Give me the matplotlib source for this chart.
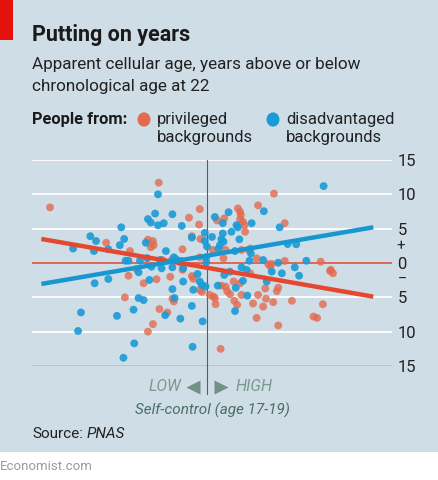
import numpy as np
import matplotlib.pyplot as plt
from matplotlib.patches import Rectangle, Circle

plt.rcParams['font.family'] = ['Roboto', 'DejaVu Sans']

# --- datos (autocontrol estandarizado, años de edad celular) ---
priv_x = [-2.18, -1.40, -1.07, -0.82, -0.67, -0.25, -0.10, -0.11, 0.14, 0.43,
          0.46, 0.47, 0.46, 0.50, 0.71, 0.24, 0.53, 0.52, -0.21, -0.09,
          -0.34, -0.75, -0.74, -0.78, 0.26, 0.48, 0.58, 0.60, 0.69, -0.49,
          -0.37, -0.10, 0.23, 0.85, 0.88, 0.93, 1.08, 1.08, 0.90, 1.58,
          1.72, -1.09, -0.98, -0.88, -1.14, -0.82, -0.70, -0.51, -0.34, -0.21,
          -0.19, -0.07, -0.10, 0.04, 0.09, 0.11, 0.12, -0.48, -0.66, -0.55,
          -0.75, 0.19, 0.20, 0.26, 0.28, 0.32, 0.37, 0.38, 0.42, 0.48,
          0.46, 0.60, 0.64, 0.71, 0.78, 0.82, 0.81, 0.69, 1.71, 1.75,
          0.99, 0.97, 0.92, 1.18, 1.61, 1.48, 1.53, 0.99, -0.46, 0.08,
          -0.62]
priv_y = [8.1, 2.95, 1.74, 3.4, 11.7, 6.6, 7.85, 5.6, 6.2, 7.95,
          7.45, 7.0, 6.35, 6.0, 8.4, 6.5, 4.55, 5.5, 3.9, 3.5,
          2.0, 3.2, 2.6, 2.3, 1.9, 1.9, 1.9, 2.1, 0.68, 0.44,
          0.05, 0.83, 0.68, -0.15, -0.5, 10.1, 5.8, 0.3, -0.15, 0.19,
          -1.0, -1.85, -0.87, -2.95, -5.0, -10.0, -2.37, -2.0, -1.0, -1.9,
          -2.3, -4.2, -3.9, -4.65, -4.9, -5.1, -6.0, -5.2, -6.7, -7.2,
          -8.9, -12.5, -3.3, -3.45, -4.1, -4.55, -2.7, -5.5, -6.1, -4.65,
          -2.95, -1.5, -5.9, -4.65, -6.35, -5.2, -3.7, -8.0, -1.16, -1.5,
          -3.6, -4.1, -5.7, -5.5, -6.0, -7.8, -8.0, -9.1, -5.6, 1.9,
          0.44]

disadv_x = [-1.86, -1.62, -1.54, -1.57, -1.37, -1.19, -1.15, -1.21, -1.13, -1.09,
            -0.93, -0.82, -0.78, -0.85, -0.83, -0.68, -0.72, -0.68, -0.60, -0.48,
            -0.35, 0.11, 0.30, 0.79, 0.22, 0.34, 0.41, 0.43, 0.62, -0.21,
            -0.03, 0.07, -0.03, 0.22, 0.20, 0.23, 0.45, 0.18, 0.16, 0.00,
            -0.57, 0.39, 0.61, 0.59, 0.78, -0.46, -0.43, -0.65, -0.01, 0.48,
            -0.33, 1.62, 1.01, 1.12, 1.24, 0.99, 1.38, 1.22, -1.56, -1.37,
            -0.95, -0.80, -0.95, -0.88, -1.75, -1.25, -1.02, -1.79, -1.01, -1.16,
            -0.48, -0.33, -0.19, -0.13, -0.10, -0.07, -0.02, 0.15, -0.48, -0.58,
            -0.37, -0.21, -0.06, -0.20, -0.63, 0.24, 0.32, 0.40, 0.39, 0.56,
            0.50, 0.55, 0.83, 0.90, 1.04, 1.28, -0.45, -0.77, -0.01, -0.36]
disadv_y = [2.1, 3.9, 3.2, 1.74, 2.0, 5.2, 3.5, 2.6, 0.33, 0.33,
            0.33, 6.4, 5.9, 2.95, 0.7, 10.0, 7.2, 5.5, 5.8, 7.1,
            5.4, 6.7, 7.4, 7.55, 5.8, 4.55, 5.5, 5.2, 5.8, 3.7,
            4.4, 3.8, 3.2, 4.3, 3.45, 3.1, 3.45, 2.6, 2.1, 2.4,
            1.74, 1.74, 1.4, 0.33, 0.44, 0.83, 0.54, 0.44, 0.83, -0.63,
            -0.77, 11.2, 5.2, 2.76, 2.72, 0.04, 0.33, -0.63, -2.95, -2.33,
            -1.35, -2.47, -5.1, -5.4, -7.2, -7.7, -6.8, -9.9, -11.7, -13.8,
            -0.63, -2.7, -3.9, -1.6, -2.7, -3.2, -3.4, -3.3, -3.8, -7.6,
            -8.1, -6.25, -8.5, -12.2, -0.77, -1.74, -1.26, -3.6, -7.0, -4.75,
            -2.6, -1.0, -2.7, -1.26, -1.5, -1.85, -5.1, -0.54, 0.1, 0.3]

# rectas de tendencia (extremos leídos)
fit_x = [-2.30, 2.31]
priv_fit = [3.5, -4.9]
disadv_fit = [-3.05, 5.2]

yticks = [15, 10, 5, 0, -5, -10, -15]
ytick_labels = ['15', '10', '5', '0', '5', '10', '15']

RED = '#e26a4f'
BLUE = '#1a9bd7'
BG = '#cfdde6'
W, H = 439, 480


def px(x, y):
    return x / W, 1 - y / H


fig = plt.figure(figsize=(W / 100, H / 100), dpi=100)
fig.patch.set_facecolor('white')
fig.patches.append(Rectangle((0, 1 - 452 / H), 438 / W, 452 / H, transform=fig.transFigure,
                             facecolor=BG, edgecolor='none', zorder=-2))
fig.patches.append(Rectangle((0, 1 - 40 / H), 13 / W, 40 / H, transform=fig.transFigure,
                             facecolor='#e3120b', edgecolor='none', zorder=-1))

# textos de cabecera
fig.text(*px(32, 41), 'Putting on years', fontsize=15.5, fontweight='bold', color='#1a1a1a', va='baseline')
fig.text(*px(32, 69), 'Apparent cellular age, years above or below', fontsize=12.3, color='#222222', va='baseline')
fig.text(*px(32, 91), 'chronological age at 22', fontsize=12.3, color='#222222', va='baseline')
fig.text(*px(32, 124), 'People from:', fontsize=11.8, fontweight='bold', color='#1a1a1a', va='baseline')
for cx, col, l1, l2 in [(144, RED, 'privileged', 'backgrounds'), (273, BLUE, 'disadvantaged', 'backgrounds')]:
    fig.patches.append(Circle(px(cx, 119.5), 6.5 / W, transform=fig.transFigure, facecolor=col,
                              edgecolor='none', zorder=2))
    fig.text(*px(cx + 13, 124), l1, fontsize=12, color='#222222', va='baseline')
    fig.text(*px(cx + 13, 142), l2, fontsize=12, color='#222222', va='baseline')

# --- área del gráfico ---
ax = fig.add_axes([32 / W, 1 - 366 / H, 360 / W, 206 / H])
ax.set_zorder(3)
ax.set_facecolor('none')
ax.set_xlim(-2.43, 2.57)
ax.set_ylim(-15, 15)
for s in ax.spines.values():
    s.set_visible(False)
ax.set_xticks([])
ax.yaxis.tick_right()
ax.set_yticks(yticks)
ax.set_yticklabels(ytick_labels)
ax.tick_params(axis='y', length=0, pad=4, labelsize=12, labelcolor='#222222')
ax.text(1.012, 2.4, '+', transform=ax.get_yaxis_transform(), fontsize=11, color='#222222',
        ha='left', va='center')
ax.text(1.015, -2.4, '–', transform=ax.get_yaxis_transform(), fontsize=10, color='#222222',
        ha='left', va='center')

for v in [15, 10, 5, -5, -10]:
    ax.axhline(v, color='white', lw=1.3, zorder=1)
ax.axhline(-15, color='#5d666b', lw=1.0, zorder=1)
ax.axhline(0, color='#e3472f', lw=1.1, zorder=2)
ax.plot([0, 0], [15, -19.1], color='#56605f', lw=0.8, clip_on=False, zorder=2)

ax.scatter(priv_x, priv_y, s=32, color=RED, alpha=0.8, edgecolors='none', zorder=3)
ax.scatter(disadv_x, disadv_y, s=32, color=BLUE, alpha=0.9, edgecolors='none', zorder=3)
ax.plot(fit_x, priv_fit, color='#e5472f', lw=3.2, solid_capstyle='butt', zorder=4)
ax.plot(fit_x, disadv_fit, color='#1896d0', lw=3.2, solid_capstyle='butt', zorder=4)

# eje x: bajo / alto autocontrol
ax.plot([-0.20], [-18.05], marker='<', ms=10, color='#6f9284', clip_on=False, mec='none')
ax.plot([0.20], [-18.05], marker='>', ms=10, color='#6f9284', clip_on=False, mec='none')
ax.text(-0.36, -18.05, 'LOW', fontsize=11.5, style='italic', color='#7b9a8c', ha='right', va='center')
ax.text(0.39, -18.05, 'HIGH', fontsize=11.5, style='italic', color='#7b9a8c', ha='left', va='center')
fig.text(*px(212, 410), 'Self-control (age 17-19)', fontsize=11, style='italic', color='#4b6e63',
         ha='center', va='center')

fig.text(*px(32, 438), 'Source:', fontsize=11, color='#222222', va='baseline')
fig.text(*px(87, 438), 'PNAS', fontsize=11, style='italic', color='#222222', va='baseline')
fig.text(*px(0, 470), 'Economist.com', fontsize=9.5, color='#9a9a9a', va='baseline')

fig.savefig('out.png', dpi=100, facecolor=fig.get_facecolor())
